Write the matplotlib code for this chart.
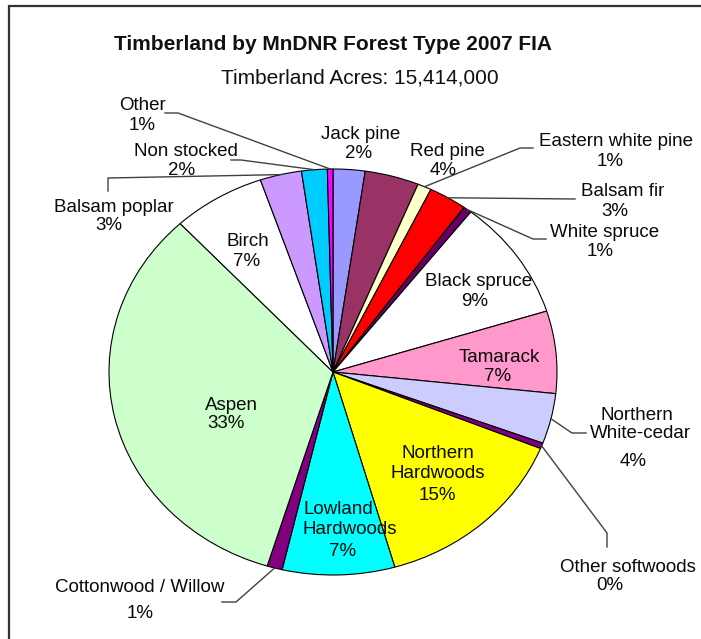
import matplotlib
matplotlib.use("Agg")
import matplotlib.pyplot as plt
from matplotlib.lines import Line2D
from matplotlib.patches import Rectangle
import numpy as np

plt.rcParams['font.family'] = ['Liberation Sans', 'DejaVu Sans']

# ---- data (share of timberland, %) ----
categories = ["Jack pine", "Red pine", "Eastern white pine", "Balsam fir", "White spruce",
              "Black spruce", "Tamarack", "Northern White-cedar", "Other softwoods",
              "Northern Hardwoods", "Lowland Hardwoods", "Cottonwood / Willow", "Aspen",
              "Birch", "Balsam poplar", "Non stocked", "Other"]
values = [2.3, 3.9, 1.0, 2.75, 0.6, 9.6, 6.55, 4.0, 0.45, 14.4, 8.1, 1.1, 33.3, 6.7, 3.0, 1.85, 0.4]
pct_labels = ["2%", "4%", "1%", "3%", "1%", "9%", "7%", "4%", "0%", "15%", "7%", "1%",
              "33%", "7%", "3%", "2%", "1%"]
colors = ["#9999FF", "#993366", "#FFFFCC", "#FF0000", "#660066", "#FFFFFF", "#FF99CC",
          "#CCCCFF", "#800080", "#FFFF00", "#00FFFF", "#800080", "#CCFFCC", "#FFFFFF",
          "#CC99FF", "#00CCFF", "#FF00FF"]
title = "Timberland by MnDNR Forest Type 2007 FIA"
subtitle = "Timberland Acres: 15,414,000"

W, H = 701, 639
fig = plt.figure(figsize=(W / 100, H / 100), dpi=100)

def fx(x):
    return x / W

def fy(y):
    return 1 - y / H

# pie centre (333,372) px, radii 224 x 203 px
cx, cy, rx, ry = 333, 372, 224, 203
ax = fig.add_axes([fx(cx - rx), fy(cy + ry), 2 * rx / W, 2 * ry / H])
wedges, _ = ax.pie(values, colors=colors, startangle=90, counterclock=False,
                   wedgeprops=dict(edgecolor="black", linewidth=0.8))
ax.set_aspect('auto')
ax.set_xlim(-1, 1)
ax.set_ylim(-1, 1)
ax.axis('off')

# frame
fig.patches.append(Rectangle((fx(9), -0.2), 1.2, fy(6) + 0.2, transform=fig.transFigure,
                             fill=False, edgecolor="#333333", linewidth=1.6))

# titles
fig.text(fx(333), fy(50), title, ha='center', va='baseline', fontsize=15,
         fontweight='bold', color='#111111')
fig.text(fx(360), fy(83), subtitle, ha='center', va='baseline', fontsize=15,
         color='#111111')

FS = 13.5
TC = '#0a0a0a'

# label line placement: category -> list of (text, x_px, y_px)
name_lines = {
    "Jack pine": ["Jack pine"], "Red pine": ["Red pine"],
    "Eastern white pine": ["Eastern white pine"], "Balsam fir": ["Balsam fir"],
    "White spruce": ["White spruce"], "Black spruce": ["Black spruce"],
    "Tamarack": ["Tamarack"], "Northern White-cedar": ["Northern", "White-cedar"],
    "Other softwoods": ["Other softwoods"], "Northern Hardwoods": ["Northern", "Hardwoods"],
    "Lowland Hardwoods": ["Lowland", "Hardwoods"],
    "Cottonwood / Willow": ["Cottonwood / Willow"], "Aspen": ["Aspen"], "Birch": ["Birch"],
    "Balsam poplar": ["Balsam poplar"], "Non stocked": ["Non stocked"], "Other": ["Other"],
}
line_pos = {
    "Jack pine": [(361, 135), (359, 153)],
    "Red pine": [(447, 152), (443, 170)],
    "Eastern white pine": [(616, 142), (610, 161)],
    "Balsam fir": [(623, 192), (615, 211)],
    "White spruce": [(605, 233), (600, 251)],
    "Black spruce": [(479, 282), (475, 301)],
    "Tamarack": [(499, 357), (498, 376)],
    "Northern White-cedar": [(637, 415), (640, 434), (633, 461)],
    "Other softwoods": [(628, 567), (610, 585)],
    "Northern Hardwoods": [(438, 453), (438, 474), (437, 495)],
    "Lowland Hardwoods": [(338, 510), (350, 530), (343, 551)],
    "Cottonwood / Willow": [(140, 587), (140, 613)],
    "Aspen": [(231, 405), (226, 423)],
    "Birch": [(248, 242), (247, 262)],
    "Balsam poplar": [(114, 207), (109, 225)],
    "Non stocked": [(186, 152), (182, 170)],
    "Other": [(142, 105), (142, 125)],
}
for cat, pct in zip(categories, pct_labels):
    lines = name_lines[cat] + [pct]
    for txt, (x, y) in zip(lines, line_pos[cat]):
        fig.text(fx(x), fy(y), txt, ha='center', va='center', fontsize=FS, color=TC)

# leader lines: from slice edge (mid angle) through elbow points (px)
leaders = {
    "Other": [(178, 113), (165, 113)],
    "Non stocked": [(241, 160), (231, 160)],
    "Balsam poplar": [(108, 178), (108, 191)],
    "Eastern white pine": [(520, 148), (533, 148)],
    "Balsam fir": [(575, 199)],
    "White spruce": [(533, 239), (546, 239)],
    "Northern White-cedar": [(572, 433), (586, 433)],
    "Other softwoods": [(607, 533), (607, 547)],
    "Cottonwood / Willow": [(236, 602), (222, 602)],
}
fig.canvas.draw()
inv = fig.transFigure.inverted()
for cat, pts in leaders.items():
    w = wedges[categories.index(cat)]
    mid = np.deg2rad((w.theta1 + w.theta2) / 2)
    ax_pt = ax.transData.transform((np.cos(mid), np.sin(mid)))
    a = inv.transform(ax_pt)
    xs = [a[0]] + [fx(p[0]) for p in pts]
    ys = [a[1]] + [fy(p[1]) for p in pts]
    fig.lines.append(Line2D(xs, ys, transform=fig.transFigure, color='#404040', linewidth=1.0))

fig.savefig("out.png", dpi=100)
